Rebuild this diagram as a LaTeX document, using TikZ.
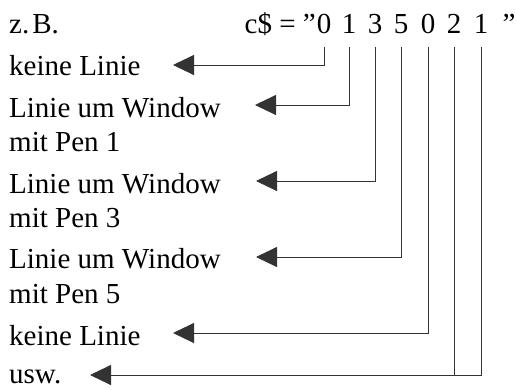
\documentclass[tikz,border=0pt]{standalone}
\usepackage{fontspec}
\setmainfont{Liberation Serif}
\usetikzlibrary{arrows.meta}
\begin{document}
\begin{tikzpicture}[x=1pt,y=1pt,
  txt/.style={inner sep=0pt,font=\fontsize{29}{34}\selectfont},
  lab/.style={txt,anchor=base west},
  dig/.style={txt,anchor=base},
  wire/.style={line width=0.9pt,draw=black!80},
  conn/.style={wire,-{Triangle[length=21pt,width=20pt]}}]
\useasboundingbox (0,0) rectangle (516,-389);
% header
\node[lab] (zb) at (9,-33) {z.\kern3pt B.};
\node[txt,anchor=base east] (cs) at (316,-33) {c\$ = ”};
\node[dig] (d1) at (324,-33) {0};
\node[dig] (d2) at (349,-33) {1};
\node[dig] (d3) at (375,-33) {3};
\node[dig] (d4) at (401,-33) {5};
\node[dig] (d5) at (428,-33) {0};
\node[dig] (d6) at (454,-33) {2};
\node[dig] (d7) at (481,-33) {1};
\node[dig] (q) at (509,-33) {”};
% labels
\node[lab] (l1) at (9,-75) {keine Linie};
\node[lab] (l2) at (9,-117) {Linie um Window};
\node[lab] (l2b) at (9,-151) {mit Pen 1};
\node[lab] (l3) at (9,-193) {Linie um Window};
\node[lab] (l3b) at (9,-227) {mit Pen 3};
\node[lab] (l4) at (9,-268) {Linie um Window};
\node[lab] (l4b) at (9,-303) {mit Pen 5};
\node[lab] (l5) at (9,-345) {keine Linie};
\node[lab] (l6) at (9,-383) {usw.};
% arrow tips
\coordinate (t1) at (173,-65);
\coordinate (t2) at (255,-105);
\coordinate (t3) at (256,-181);
\coordinate (t4) at (256,-257);
\coordinate (t5) at (173,-333);
\coordinate (t6) at (90,-375);
% connectors
\draw[conn] (d1.base) ++(0,-14) |- (t1);
\draw[conn] (d2.base) ++(0,-14) |- (t2);
\draw[conn] (d3.base) ++(0,-14) |- (t3);
\draw[conn] (d4.base) ++(0,-14) |- (t4);
\draw[conn] (d5.base) ++(0,-14) |- (t5);
\draw[wire] (d6.base) ++(0,-14) -- (d6.base |- t6);
\draw[conn] (d7.base) ++(0,-14) |- (t6);
\end{tikzpicture}
\end{document}
